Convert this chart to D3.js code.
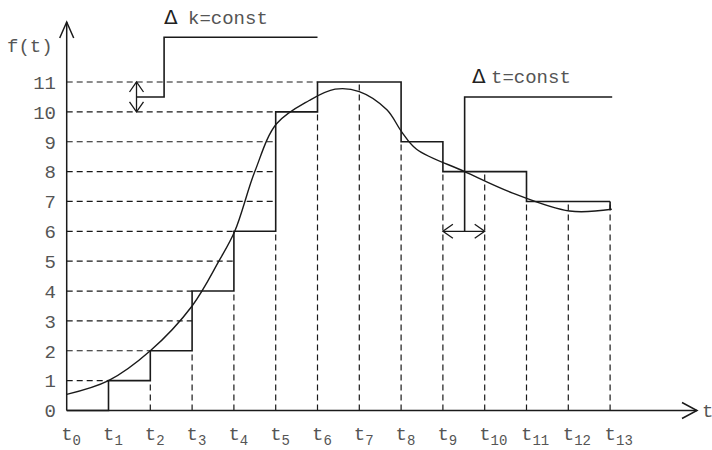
<!DOCTYPE html>
<html><head><meta charset="utf-8">
<script src="https://cdn.jsdelivr.net/npm/d3@7"></script>
<style>body{margin:0;background:#fff}svg{display:block}</style>
</head><body>
<svg id="c" width="712" height="450"></svg>
<script>
// ---- data ----
const tLabels = ["0","1","2","3","4","5","6","7","8","9","10","11","12","13"];
const yTicks = [0,1,2,3,4,5,6,7,8,9,10,11];
// staircase level on interval [t_i, t_{i+1}]
const steps = [0,1,2,4,6,10,11,11,9,8,8,7,7];
// smooth curve f(t)
const curveT = [0,1,2,3,3.64,4.02,4.5,5.02,5.8,6.42,7.0,7.66,8.01,8.37,9.52,10.67,12.03,13.04];
const curveF = [0.54,1.0,2.0,3.5,5.0,6.0,8.0,9.6,10.38,10.76,10.68,10.07,9.34,8.75,8.0,7.28,6.68,6.74];
// annotations
const dkStep = [[1.67,10.5],[2.33,10.5],[2.33,12.5],[6.0,12.5]];
const dkArrow = [10,11]; const dkArrowT = 1.67;
const dtStep = [[9.52,6.0],[9.52,10.5],[13.05,10.5]];
const dtArrow = [9,10]; const dtArrowLevel = 6.0;

const svg = d3.select("#c");
const x = d3.scaleLinear().domain([0,13]).range([66.7,610.1]);
const y = d3.scaleLinear().domain([0,11]).range([410.5,82]);
const ink = "#1a1a1a", txt = "#555";
const font = "'Liberation Mono', 'Courier New', monospace";

// horizontal dashed guides
yTicks.filter(k=>k>0).forEach(k=>{
  const i = steps.findIndex(s=>s>=k);
  svg.append("line").attr("x1",x(0)).attr("x2",x(i)).attr("y1",y(k)).attr("y2",y(k))
    .attr("stroke",ink).attr("stroke-width",1.2).attr("stroke-dasharray","6,4");
});
// vertical dashed guides
for(let i=1;i<=13;i++){
  const lv = i<13 ? Math.min(steps[i-1],steps[i]) : steps[12];
  if(lv<=0) continue;
  svg.append("line").attr("x1",x(i)).attr("x2",x(i)).attr("y1",y(0)).attr("y2",y(lv))
    .attr("stroke",ink).attr("stroke-width",1.2).attr("stroke-dasharray","6,4");
}
// axes
const ax = svg.append("g").attr("stroke",ink).attr("stroke-width",1.5).attr("fill","none");
ax.append("line").attr("x1",x(0)).attr("x2",697).attr("y1",y(0)).attr("y2",y(0));
ax.append("path").attr("d",`M682,${y(0)-8}L697,${y(0)}L682,${y(0)+8}`);
ax.append("line").attr("x1",x(0)).attr("x2",x(0)).attr("y1",y(0)).attr("y2",22);
ax.append("path").attr("d",`M${x(0)-7},38L${x(0)},22L${x(0)+7},38`);

// staircase
const stairPts = steps.map((s,i)=>[i,s]); stairPts.push([13,steps[12]]); stairPts.push([13,curveF[curveF.length-1]]);
const stairLine = d3.line().x(d=>x(d[0])).y(d=>y(d[1]));
const stairStep = d3.line().x(d=>x(d[0])).y(d=>y(d[1])).curve(d3.curveStepAfter);
svg.append("path").attr("d",stairStep(stairPts.slice(0,14))).attr("fill","none").attr("stroke",ink).attr("stroke-width",1.6);
svg.append("path").attr("d",stairLine(stairPts.slice(13))).attr("fill","none").attr("stroke",ink).attr("stroke-width",1.6);

// smooth curve
const cl = d3.line().x(d=>x(d[0])).y(d=>y(d[1])).curve(d3.curveCatmullRom.alpha(0.5));
svg.append("path").attr("d",cl(curveT.map((t,i)=>[t,curveF[i]]))).attr("fill","none").attr("stroke",ink).attr("stroke-width",1.4);

// annotations
const an = svg.append("g").attr("stroke",ink).attr("stroke-width",1.6).attr("fill","none");
an.append("path").attr("d",stairLine(dkStep));
an.append("path").attr("d",stairLine(dtStep));
// vertical double arrow
const ax1 = x(dkArrowT), ya = y(dkArrow[1]), yb = y(dkArrow[0]);
an.append("line").attr("x1",ax1).attr("x2",ax1).attr("y1",ya).attr("y2",yb).attr("stroke-width",1.3);
an.append("path").attr("d",`M${ax1-7},${ya+10}L${ax1},${ya}L${ax1+7},${ya+10}`).attr("stroke-width",1.3);
an.append("path").attr("d",`M${ax1-7},${yb-10}L${ax1},${yb}L${ax1+7},${yb-10}`).attr("stroke-width",1.3);
// horizontal double arrow
const hy = y(dtArrowLevel), xa = x(dtArrow[0]), xb = x(dtArrow[1]);
an.append("line").attr("x1",xa).attr("x2",xb).attr("y1",hy).attr("y2",hy).attr("stroke-width",1.3);
an.append("path").attr("d",`M${xa+10},${hy-7}L${xa},${hy}L${xa+10},${hy+7}`).attr("stroke-width",1.3);
an.append("path").attr("d",`M${xb-10},${hy-7}L${xb},${hy}L${xb-10},${hy+7}`).attr("stroke-width",1.3);

// texts
const T = svg.append("g").attr("fill",txt).style("font-family",font);
yTicks.forEach(v=>{
  T.append("text").attr("x",56).attr("y",y(v)).attr("dy","0.36em").attr("text-anchor","end")
    .style("font-size","19px").text(v);
});
tLabels.forEach((s,i)=>{
  const t = T.append("text").attr("x",x(i)-5.5).attr("y",440).style("font-size","19px");
  t.append("tspan").text("t");
  t.append("tspan").attr("dy",5).style("font-size","14px").text(s);
});
T.append("text").attr("x",7).attr("y",52).style("font-size","19px").text("f(t)");
T.append("text").attr("x",702).attr("y",y(0)).attr("dy","0.36em").style("font-size","19px").text("t");
const k1 = T.append("text").attr("x",164).attr("y",24).style("font-size","19px");
k1.append("tspan").style("font-family","'DejaVu Sans'").style("font-size","20px").attr("fill","#222").text("Δ");
k1.append("tspan").attr("x",188).text("k=const");
const k2 = T.append("text").attr("x",472).attr("y",83).style("font-size","19px");
k2.append("tspan").style("font-family","'DejaVu Sans'").style("font-size","20px").attr("fill","#222").text("Δ");
k2.append("tspan").attr("x",491).text("t=const");
</script>
</body></html>
